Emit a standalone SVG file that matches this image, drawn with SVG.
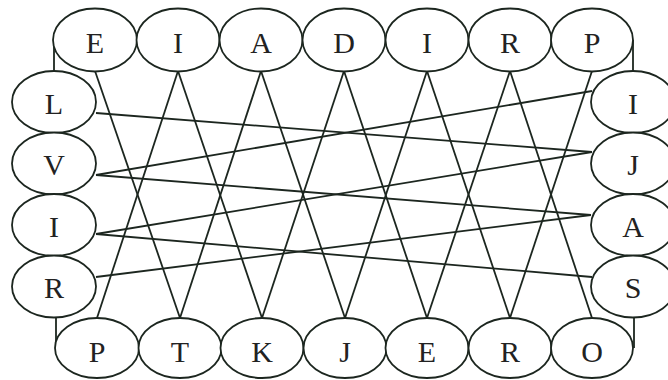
<svg xmlns="http://www.w3.org/2000/svg" width="668" height="380" viewBox="0 0 668 380">
<style>
.n ellipse{fill:#fff;stroke:#1c261f;stroke-width:1.8}
.n text{font-family:"Liberation Serif","Times New Roman",serif;font-size:30px;fill:#222;text-anchor:middle}
#connectors line{stroke:#1c261f;stroke-width:1.8;fill:none}
</style>
<rect width="668" height="380" fill="#fff"/>
<g id="connectors">
<line x1="54" y1="40" x2="54" y2="72"/>
<line x1="56" y1="316" x2="56" y2="348"/>
<line x1="633" y1="40" x2="633" y2="72"/>
<line x1="634" y1="316" x2="634" y2="348"/>
<line x1="95" y1="71" x2="180" y2="318"/>
<line x1="178" y1="71" x2="97" y2="318"/>
<line x1="178" y1="71" x2="262" y2="318"/>
<line x1="261" y1="71" x2="180" y2="318"/>
<line x1="261" y1="71" x2="345" y2="318"/>
<line x1="344" y1="71" x2="262" y2="318"/>
<line x1="344" y1="71" x2="427" y2="318"/>
<line x1="427" y1="71" x2="345" y2="318"/>
<line x1="427" y1="71" x2="510" y2="318"/>
<line x1="510" y1="71" x2="427" y2="318"/>
<line x1="510" y1="71" x2="592" y2="318"/>
<line x1="592" y1="71" x2="510" y2="318"/>
<line x1="96" y1="113" x2="592" y2="152"/>
<line x1="96" y1="175" x2="592" y2="91"/>
<line x1="96" y1="175" x2="591" y2="215"/>
<line x1="96" y1="234" x2="592" y2="152"/>
<line x1="96" y1="234" x2="592" y2="277"/>
<line x1="96" y1="277" x2="591" y2="215"/>
</g>
<g id="t1" class="n"><ellipse cx="95" cy="40" rx="42" ry="31.5"/><text x="95" y="53">E</text></g>
<g id="t2" class="n"><ellipse cx="178" cy="40" rx="41.5" ry="31.5"/><text x="178" y="53">I</text></g>
<g id="t3" class="n"><ellipse cx="261" cy="40" rx="41.5" ry="31.5"/><text x="261" y="53">A</text></g>
<g id="t4" class="n"><ellipse cx="344" cy="40" rx="41.5" ry="31.5"/><text x="344" y="53">D</text></g>
<g id="t5" class="n"><ellipse cx="427" cy="40" rx="41.5" ry="31.5"/><text x="427" y="53">I</text></g>
<g id="t6" class="n"><ellipse cx="510" cy="40" rx="41.5" ry="31.5"/><text x="510" y="53">R</text></g>
<g id="t7" class="n"><ellipse cx="592" cy="40" rx="41" ry="31.5"/><text x="592" y="53">P</text></g>
<g id="b1" class="n"><ellipse cx="97" cy="348" rx="42" ry="30"/><text x="97" y="362">P</text></g>
<g id="b2" class="n"><ellipse cx="180" cy="348" rx="41.5" ry="30"/><text x="180" y="362">T</text></g>
<g id="b3" class="n"><ellipse cx="262" cy="348" rx="41.5" ry="30"/><text x="262" y="362">K</text></g>
<g id="b4" class="n"><ellipse cx="345" cy="348" rx="41.5" ry="30"/><text x="345" y="362">J</text></g>
<g id="b5" class="n"><ellipse cx="427" cy="348" rx="41.5" ry="30"/><text x="427" y="362">E</text></g>
<g id="b6" class="n"><ellipse cx="510" cy="348" rx="41.5" ry="30"/><text x="510" y="362">R</text></g>
<g id="b7" class="n"><ellipse cx="592" cy="348" rx="41" ry="30"/><text x="592" y="362">O</text></g>
<g id="l1" class="n"><ellipse cx="54" cy="102" rx="42" ry="31"/><text x="54" y="114">L</text></g>
<g id="l2" class="n"><ellipse cx="54" cy="163.5" rx="42" ry="31"/><text x="54" y="175">V</text></g>
<g id="l3" class="n"><ellipse cx="54" cy="225" rx="42" ry="31"/><text x="54" y="237">I</text></g>
<g id="l4" class="n"><ellipse cx="54" cy="286.5" rx="42" ry="31"/><text x="54" y="298">R</text></g>
<g id="r1" class="n"><ellipse cx="633" cy="102" rx="42" ry="31"/><text x="633" y="114">I</text></g>
<g id="r2" class="n"><ellipse cx="633" cy="163.5" rx="42" ry="31"/><text x="633" y="175">J</text></g>
<g id="r3" class="n"><ellipse cx="633" cy="225" rx="42" ry="31"/><text x="633" y="237">A</text></g>
<g id="r4" class="n"><ellipse cx="633" cy="286.5" rx="42" ry="31"/><text x="633" y="298">S</text></g>
</svg>
